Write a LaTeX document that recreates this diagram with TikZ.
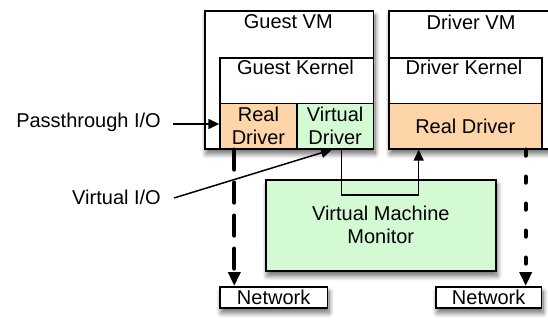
\documentclass[tikz,border=0pt]{standalone}
\usepackage{fontspec}
\setmainfont{Liberation Sans}
\usetikzlibrary{arrows.meta,shadows.blur}
\definecolor{drvorange}{RGB}{253,213,168}
\definecolor{vmmgreen}{RGB}{212,250,212}
\begin{document}
\begin{tikzpicture}[x=1pt,y=-1pt,
  font=\fontsize{20}{23}\selectfont,
  box/.style={draw=black, line width=1.6pt, rectangle, inner sep=0pt,
    anchor=north west, align=center},
  softshadow/.style={blur shadow={shadow xshift=1.5pt, shadow yshift=-5pt,
    shadow blur radius=5pt, shadow blur steps=10, shadow opacity=60}},
  thinarrow/.style={line width=1.5pt, -{Triangle[length=11pt,width=10pt]}},
  passdash/.style={line width=4.2pt, line cap=round, dash pattern=on 20pt off 13pt,
    -{Triangle[length=14pt,width=12pt]}},
  netdots/.style={line width=4.2pt, line cap=round, dash pattern=on 6pt off 21pt,
    -{Triangle[length=14pt,width=12pt]}}]
\useasboundingbox (0,0) rectangle (548,323);

% virtual machines
\node[box, fill=white, softshadow, minimum width=168.7pt, minimum height=138pt] (guestvm) at (204,10) {};
\node[box, fill=white, softshadow, minimum width=166pt, minimum height=138pt] (drivervm) at (388,10) {};
\node (guestvmlabel) at (288.3,22) {Guest VM};
\node (drivervmlabel) at (471,22) {Driver VM};

% kernels
\node[box, fill=white, minimum width=153.4pt, minimum height=91pt] (guestkernel) at (219.3,57) {};
\node[box, fill=white, minimum width=153pt, minimum height=91pt] (driverkernel) at (388,57) {};
\node (guestkernellabel) at (295.5,67) {Guest Kernel};
\node (driverkernellabel) at (464,67) {Driver Kernel};

% drivers
\node[box, fill=drvorange, minimum width=76.7pt, minimum height=45.3pt] (greal) at (219.3,102.7) {Real\\Driver};
\node[box, fill=vmmgreen, minimum width=76.7pt, minimum height=45.3pt] (gvirt) at (296,102.7) {Virtual\\Driver};
\node[box, fill=drvorange, minimum width=153pt, minimum height=45.3pt] (dreal) at (388,102.7) {Real Driver};

% hypervisor
\node[box, fill=vmmgreen, softshadow, minimum width=230pt, minimum height=91pt] (vmm) at (265,179) {Virtual Machine\\Monitor};

% networks
\node[box, fill=white, softshadow, minimum width=107.7pt, minimum height=21pt] (netl) at (219,286) {Network};
\node[box, fill=white, softshadow, minimum width=105.7pt, minimum height=21pt] (netr) at (435,286) {Network};

% side labels
\node[anchor=base east, inner sep=0pt] (pass) at (161,127.5) {Passthrough I/O};
\node[anchor=base east, inner sep=0pt] (vio) at (161,204) {Virtual I/O};
\coordinate (passtail) at (173,124);
\coordinate (viotail) at (174,198);

% connectors
\draw[thinarrow] (passtail) -- (passtail -| greal.west);
\draw[thinarrow] (viotail) -- ([xshift=36pt]gvirt.south west);
\draw[thinarrow] ([xshift=45.7pt]gvirt.south west) -- ++(0,45.3) -| ([xshift=30.7pt]dreal.south west);
\draw[passdash] ([xshift=15pt]greal.south west) -- ([xshift=15.3pt]netl.north west);
\draw[netdots] ([xshift=137.7pt]dreal.south west) -- ([xshift=90.7pt]netr.north west);
\end{tikzpicture}
\end{document}
